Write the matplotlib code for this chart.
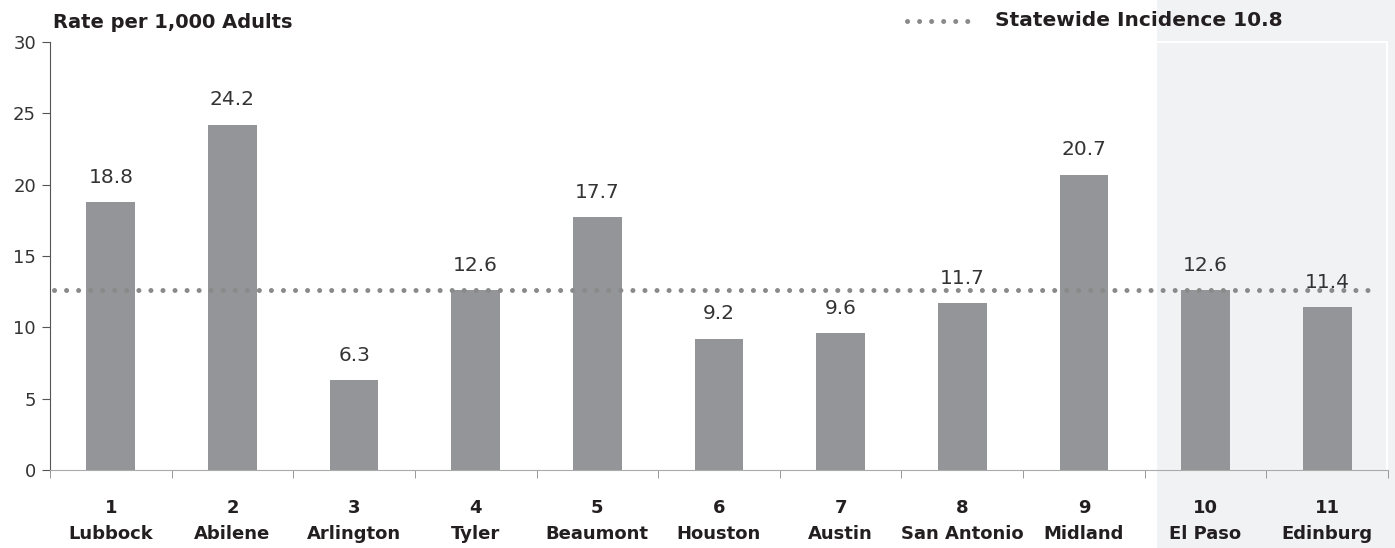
import matplotlib
matplotlib.use("Agg")
import matplotlib.pyplot as plt
from matplotlib.lines import Line2D
from matplotlib.patches import Rectangle

numbers = ["1", "2", "3", "4", "5", "6", "7", "8", "9", "10", "11"]
cities = ["Lubbock", "Abilene", "Arlington", "Tyler", "Beaumont", "Houston",
          "Austin", "San Antonio", "Midland", "El Paso", "Edinburg"]
values = [18.8, 24.2, 6.3, 12.6, 17.7, 9.2, 9.6, 11.7, 20.7, 12.6, 11.4]
statewide_line = 12.6
legend_label = "Statewide Incidence 10.8"
y_title = "Rate per 1,000 Adults"
yticks = [0, 5, 10, 15, 20, 25, 30]

plt.rcParams['font.family'] = ['DejaVu Sans']
W, H = 1395, 548
fig = plt.figure(figsize=(W / 100, H / 100), dpi=100)

# shaded region for the last two regions
fig.patches.append(Rectangle((1157 / W, 0), (W - 1157) / W, 1, transform=fig.transFigure,
                             facecolor="#f1f2f4", edgecolor="none", zorder=-2))
fig.lines.append(Line2D([1157 / W, 1387 / W], [1 - 42 / H, 1 - 42 / H], transform=fig.transFigure,
                        color="white", lw=1.5, zorder=-1))
fig.lines.append(Line2D([1387 / W, 1387 / W], [1 - 42 / H, 1 - 470 / H], transform=fig.transFigure,
                        color="white", lw=1.5, zorder=-1))

ax = fig.add_axes([50 / W, 1 - 470 / H, (1388 - 50) / W, (470 - 42) / H])
ax.patch.set_alpha(0)

x = list(range(len(values)))
bars = ax.bar(x, values, width=0.4, color="#939598", zorder=2)
for xi, v in zip(x, values):
    ax.annotate(f"{v:.1f}", (xi, v), xytext=(0, 11), textcoords="offset points",
                ha="center", va="bottom", fontsize=14.5, color="#333333", zorder=4)

ax.plot([-0.47, 10.4], [statewide_line, statewide_line], color="#8a8a8a", lw=3.6,
        dashes=[0.01, 2.4], dash_capstyle="round", zorder=3)

ax.set_xlim(-0.5, 10.5)
ax.set_ylim(0, 30)
ax.set_yticks(yticks)
ax.set_yticklabels([str(t) for t in yticks], fontsize=13, color="#333333")
ax.set_xticks(x)
ax.set_xticklabels([f"{n}\n{c}" for n, c in zip(numbers, cities)], fontsize=13,
                   fontweight="bold", color="#231f20", linespacing=1.55)
ax.tick_params(axis="x", which="major", length=0, pad=21)
ax.set_xticks([i + 0.5 for i in range(-1, 11)], minor=True)
ax.tick_params(axis="x", which="minor", length=6, color="#888888", direction="out")
ax.tick_params(axis="y", length=6, color="#555555", pad=4)
for s in ["top", "right"]:
    ax.spines[s].set_visible(False)
ax.spines["left"].set_color("#555555")
ax.spines["bottom"].set_color("#aaaaaa")

fig.text(53 / W, 1 - 22 / H, y_title, fontsize=14, fontweight="bold",
         color="#231f20", ha="left", va="center")

fig.lines.append(Line2D([907 / W, 970 / W], [1 - 21 / H, 1 - 21 / H], transform=fig.transFigure,
                        color="#8a8a8a", lw=3.6, dashes=[0.01, 2.4], dash_capstyle="round"))
fig.text(995 / W, 1 - 21 / H, legend_label, fontsize=14.5, fontweight="bold",
         color="#231f20", ha="left", va="center")

fig.savefig("out.png", dpi=100)
